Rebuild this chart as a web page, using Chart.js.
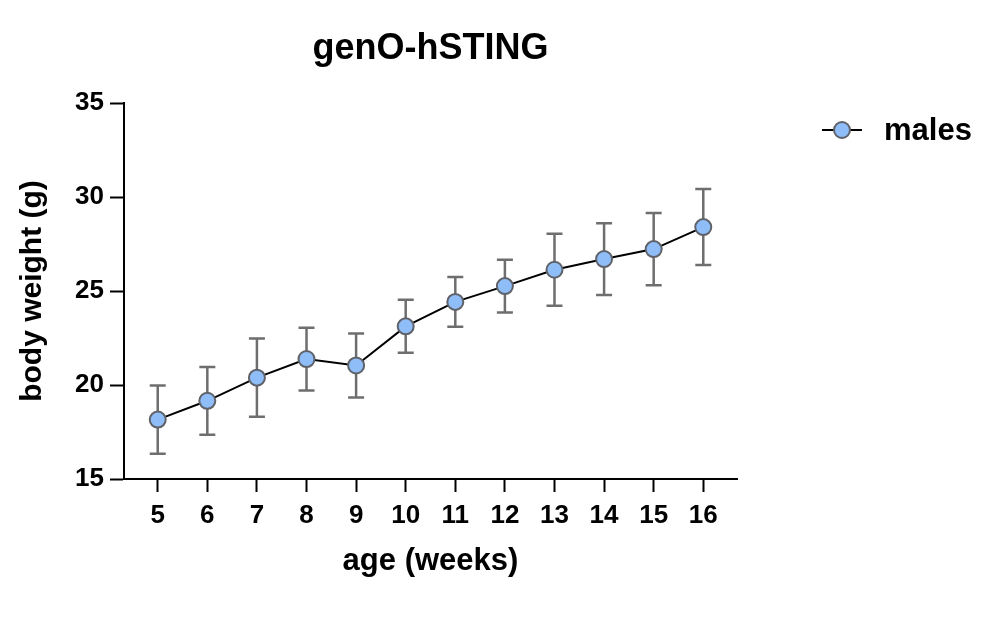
<!DOCTYPE html>
<html>
<head>
<meta charset="utf-8">
<script src="https://cdn.jsdelivr.net/npm/chart.js@4.4.1/dist/chart.umd.min.js"></script>
<style>
  html, body { margin: 0; padding: 0; background: #fff; }
  #wrap { width: 1006px; height: 617px; }
</style>
</head>
<body>
<div id="wrap"><canvas id="grafik"></canvas></div>
<script>
const weeks = [5, 6, 7, 8, 9, 10, 11, 12, 13, 14, 15, 16];
const meanWeight = [18.16, 19.16, 20.39, 21.38, 21.04, 23.12, 24.42, 25.26, 26.13, 26.70, 27.23, 28.40];
const sdWeight = [1.82, 1.80, 2.08, 1.67, 1.70, 1.41, 1.32, 1.40, 1.92, 1.91, 1.92, 2.02];
const yTicks = [15, 20, 25, 30, 35];

const FONT = "'Liberation Sans', Arial, sans-serif";
const fill = "#8fbdf8";
const edge = "#5f6268";
const barColor = "#6e6e6e";

// error bars (mean +/- sd)
const errorBars = {
  id: "errorBars",
  beforeDatasetsDraw(chart) {
    const { ctx, scales: { x, y } } = chart;
    ctx.save();
    ctx.strokeStyle = barColor;
    ctx.lineWidth = 2.5;
    for (let i = 0; i < weeks.length; i++) {
      const px = x.getPixelForValue(weeks[i]);
      const top = y.getPixelForValue(meanWeight[i] + sdWeight[i]);
      const bot = y.getPixelForValue(meanWeight[i] - sdWeight[i]);
      ctx.beginPath();
      ctx.moveTo(px, top); ctx.lineTo(px, bot);
      ctx.moveTo(px - 8, top); ctx.lineTo(px + 8, top);
      ctx.moveTo(px - 8, bot); ctx.lineTo(px + 8, bot);
      ctx.stroke();
    }
    ctx.restore();
  }
};

// legend at the right of the plot
const sideLegend = {
  id: "sideLegend",
  afterDraw(chart) {
    const { ctx, chartArea } = chart;
    const lx = chartArea.right + 85;
    const ly = chartArea.top + 27;
    ctx.save();
    ctx.strokeStyle = "#000";
    ctx.lineWidth = 2;
    ctx.beginPath();
    ctx.moveTo(lx, ly); ctx.lineTo(lx + 40, ly);
    ctx.stroke();
    ctx.beginPath();
    ctx.arc(lx + 20, ly, 8, 0, Math.PI * 2);
    ctx.fillStyle = fill;
    ctx.fill();
    ctx.strokeStyle = edge;
    ctx.stroke();
    ctx.fillStyle = "#000";
    ctx.font = "bold 31px " + FONT;
    ctx.textBaseline = "middle";
    ctx.fillText(chart.data.datasets[0].label, lx + 62, ly + 1);
    ctx.restore();
  }
};

const ctx = document.getElementById("grafik").getContext("2d");

new Chart(ctx, {
  type: "line",
  data: {
    datasets: [{
      label: "males",
      data: weeks.map((w, i) => ({ x: w, y: meanWeight[i] })),
      borderColor: "#000",
      borderWidth: 2,
      pointRadius: 8,
      pointHoverRadius: 8,
      pointBackgroundColor: fill,
      pointBorderColor: edge,
      pointBorderWidth: 2,
      tension: 0
    }]
  },
  plugins: [errorBars, sideLegend],
  options: {
    responsive: true,
    maintainAspectRatio: false,
    animation: false,
    layout: { padding: { left: 0, right: 269, top: 0, bottom: 0 } },
    plugins: {
      legend: { display: false },
      tooltip: { enabled: false },
      title: {
        display: true,
        fullSize: false,
        text: "genO-hSTING",
        color: "#000",
        font: { family: FONT, size: 36, weight: "bold" },
        padding: { top: 27, bottom: 32.8 }
      }
    },
    scales: {
      x: {
        type: "linear",
        min: 4.32,
        max: 16.68,
        afterFit(scale) { scale.height = 138; },
        afterBuildTicks(scale) { scale.ticks = weeks.map(v => ({ value: v })); },
        ticks: {
          color: "#000",
          padding: 8,
          font: { family: FONT, size: 26, weight: "bold" }
        },
        grid: { drawOnChartArea: false, tickLength: 13, tickWidth: 2, tickColor: "#000" },
        border: { color: "#000", width: 2 },
        title: {
          display: true,
          text: "age (weeks)",
          color: "#000",
          font: { family: FONT, size: 31, weight: "bold" },
          padding: { top: 0, bottom: 37 }
        }
      },
      y: {
        min: 15,
        max: 35,
        afterFit(scale) { scale.width = 124; },
        afterBuildTicks(scale) { scale.ticks = yTicks.map(v => ({ value: v })); },
        ticks: {
          color: "#000",
          padding: 6,
          font: { family: FONT, size: 26, weight: "bold" }
        },
        grid: { drawOnChartArea: false, tickLength: 14, tickWidth: 2, tickColor: "#000" },
        border: { color: "#000", width: 2 },
        title: {
          display: true,
          text: "body weight (g)",
          color: "#000",
          font: { family: FONT, size: 30, weight: "bold" },
          padding: { top: 15, bottom: 0 }
        }
      }
    }
  }
});
</script>
</body>
</html>
